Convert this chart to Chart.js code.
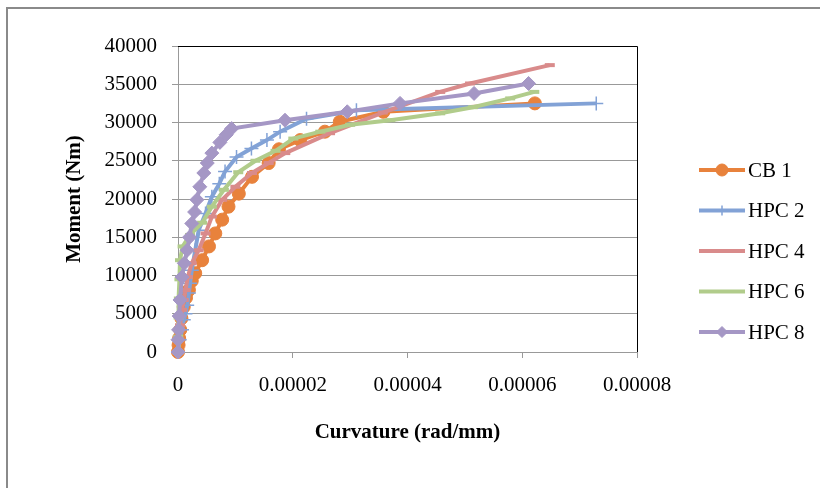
<!DOCTYPE html>
<html>
<head>
<meta charset="utf-8">
<script src="https://cdn.jsdelivr.net/npm/chart.js@4/dist/chart.umd.min.js"></script>
<style>
  html, body { margin: 0; padding: 0; background: #fff; }
  canvas { display: block; }
</style>
</head>
<body>
<canvas id="c" width="820" height="488"></canvas>
<script>
// ----- data (curvature in rad/mm, moment in Nm) -----
var seriesNames = ["CB 1", "HPC 2", "HPC 4", "HPC 6", "HPC 8"];

var cb1Curv  = [0, 0.1e-6, 0.2e-6, 0.4e-6, 0.6e-6, 1.0e-6, 1.4e-6, 1.9e-6, 2.4e-6, 3.0e-6, 4.2e-6, 5.4e-6, 6.5e-6, 7.7e-6, 8.8e-6, 10.6e-6, 12.9e-6, 15.8e-6, 17.6e-6, 21.3e-6, 25.6e-6, 28.2e-6, 35.8e-6, 62.2e-6];
var cb1Mom   = [0, 900, 1800, 2900, 4400, 5900, 7100, 8100, 9300, 10300, 12000, 13800, 15500, 17300, 19000, 20700, 22900, 24700, 26500, 27700, 28800, 30100, 31400, 32500];

var hpc2Curv = [0, 0.3e-6, 0.7e-6, 1.0e-6, 1.3e-6, 1.6e-6, 1.9e-6, 2.1e-6, 2.4e-6, 3.0e-6, 3.6e-6, 4.8e-6, 5.9e-6, 7.2e-6, 8.2e-6, 10.2e-6, 12.8e-6, 15.5e-6, 17.8e-6, 22.4e-6, 31.1e-6, 72.9e-6];
var hpc2Mom  = [0, 1600, 2900, 4200, 5000, 6100, 7700, 9000, 10700, 13300, 15900, 18100, 20300, 22000, 23600, 25500, 26600, 27700, 28800, 30500, 31600, 32500];

var hpc4Curv = [0, 0.2e-6, 0.35e-6, 0.7e-6, 1.0e-6, 1.3e-6, 1.7e-6, 2.4e-6, 3.6e-6, 4.8e-6, 5.9e-6, 7.7e-6, 10.0e-6, 12.9e-6, 15.8e-6, 18.7e-6, 26.5e-6, 35.7e-6, 45.7e-6, 50.9e-6, 64.8e-6];
var hpc4Mom  = [0, 1600, 3500, 5500, 6800, 8100, 9800, 11600, 13300, 15500, 17700, 19900, 21600, 23400, 24700, 26000, 28600, 31300, 34000, 35100, 37500];

var hpc6Curv = [0, 0.05e-6, 0.1e-6, 0.15e-6, 0.25e-6, 0.35e-6, 0.8e-6, 2.1e-6, 4.2e-6, 5.9e-6, 8.0e-6, 10.5e-6, 13.5e-6, 17.0e-6, 20.1e-6, 24.8e-6, 30.0e-6, 37.0e-6, 45.7e-6, 51.4e-6, 57.9e-6, 62.1e-6];
var hpc6Mom  = [0, 2000, 4500, 7000, 9500, 12000, 13800, 15300, 16900, 19000, 21200, 23500, 25000, 26300, 27900, 28800, 29700, 30300, 31200, 32000, 33150, 34000];

var hpc8Curv = [0, 0, 0.1e-6, 0.2e-6, 0.35e-6, 0.7e-6, 1.1e-6, 1.6e-6, 2.0e-6, 2.4e-6, 2.9e-6, 3.3e-6, 3.8e-6, 4.5e-6, 5.1e-6, 5.9e-6, 7.3e-6, 8.4e-6, 9.35e-6, 18.65e-6, 29.5e-6, 38.7e-6, 51.6e-6, 61.1e-6];
var hpc8Mom  = [0, 1600, 2900, 4700, 6800, 9800, 11600, 13300, 15000, 16800, 18300, 19900, 21600, 23400, 24700, 26000, 27400, 28400, 29200, 30300, 31400, 32500, 33800, 35100];

var xTicks = [0, 0.00002, 0.00004, 0.00006, 0.00008];
var yTicks = [0, 5000, 10000, 15000, 20000, 25000, 30000, 35000, 40000];
var xTickLabels = ["0", "0.00002", "0.00004", "0.00006", "0.00008"];

// ----- styles -----
var colors = ["#e8823c", "#82a2d6", "#d98b8b", "#b1cc8b", "#a597c5"];
var marks = [
  { style: "circle",  r: 6.5, bw: 1,   lr: 6 },
  { style: "cross",   r: 7,   bw: 1.5, lr: 5 },
  { style: "line",    r: 5,   bw: 4,   lr: 0 },
  { style: "line",    r: 5,   bw: 4,   lr: 0 },
  { style: "rectRot", r: 7,   bw: 1,   lr: 5.5 }
];
var SERIF = "'Liberation Serif', 'Times New Roman', serif";

function pts(xs, ys) { return xs.map(function (x, i) { return { x: x, y: ys[i] }; }); }
var allCurv = [cb1Curv, hpc2Curv, hpc4Curv, hpc6Curv, hpc8Curv];
var allMom  = [cb1Mom, hpc2Mom, hpc4Mom, hpc6Mom, hpc8Mom];

var datasets = seriesNames.map(function (name, i) {
  return {
    label: name,
    data: pts(allCurv[i], allMom[i]),
    borderColor: colors[i],
    backgroundColor: colors[i],
    borderWidth: 4,
    tension: 0,
    pointStyle: marks[i].style,
    pointRadius: marks[i].r,
    pointBorderWidth: marks[i].bw,
    pointBorderColor: colors[i],
    pointBackgroundColor: colors[i],
    clip: false,
    order: seriesNames.length - i   // later series on top, as in the original
  };
});

// frame, plot border and legend
var decor = {
  id: "decor",
  beforeDraw: function (c) {
    var ctx = c.ctx;
    ctx.save();
    ctx.fillStyle = "#fff";
    ctx.fillRect(0, 0, c.width, c.height);
    ctx.strokeStyle = "#8a8a8a";
    ctx.lineWidth = 2;
    ctx.beginPath();
    ctx.moveTo(7, 488); ctx.lineTo(7, 8); ctx.lineTo(820, 8);
    ctx.stroke();
    ctx.restore();
  },
  beforeDatasetsDraw: function (c) {
    var ctx = c.ctx, a = c.chartArea;
    ctx.save();
    ctx.strokeStyle = "#000";
    ctx.lineWidth = 1;
    ctx.beginPath();
    ctx.moveTo(a.left, a.top + 0.5); ctx.lineTo(a.right + 0.5, a.top + 0.5); ctx.lineTo(a.right + 0.5, a.bottom);
    ctx.stroke();
    ctx.restore();
  },
  afterDraw: function (c) {
    var ctx = c.ctx;
    ctx.save();
    seriesNames.forEach(function (name, i) {
      var y = 170 + i * 40.5;
      ctx.strokeStyle = colors[i];
      ctx.fillStyle = colors[i];
      ctx.lineWidth = 4;
      ctx.beginPath(); ctx.moveTo(699, y); ctx.lineTo(745, y); ctx.stroke();
      if (marks[i].lr > 0) {
        ctx.lineWidth = marks[i].bw;
        Chart.helpers.drawPoint(ctx, { pointStyle: marks[i].style, radius: marks[i].lr, borderWidth: marks[i].bw, rotation: 0 }, 722, y);
      }
      ctx.fillStyle = "#000";
      ctx.font = "21px " + SERIF;
      ctx.textBaseline = "middle";
      ctx.textAlign = "left";
      ctx.fillText(name, 748, y + 1);
    });
    ctx.restore();
  }
};

Chart.defaults.color = "#000";
Chart.defaults.font.family = SERIF;
Chart.defaults.font.size = 21;

new Chart(document.getElementById("c"), {
  type: "line",
  data: { datasets: datasets },
  plugins: [decor],
  options: {
    responsive: false,
    animation: false,
    devicePixelRatio: 1,
    layout: { padding: { left: 0, right: 183, top: 46, bottom: 0 } },
    plugins: { legend: { display: false }, tooltip: { enabled: false } },
    scales: {
      x: {
        type: "linear",
        min: 0, max: 0.00008,
        afterBuildTicks: function (s) { s.ticks = xTicks.map(function (v) { return { value: v }; }); },
        afterFit: function (s) { s.height = 136; },
        ticks: {
          padding: 15,
          maxRotation: 0,
          autoSkip: false,
          callback: function (v, i) { return xTickLabels[i]; }
        },
        grid: { drawOnChartArea: false, tickLength: 6, color: "#999" },
        border: { color: "#999" },
        title: {
          display: true,
          text: "Curvature (rad/mm)",
          font: { size: 21, weight: "bold", family: SERIF },
          padding: { top: 0, bottom: 43 }
        }
      },
      y: {
        min: 0, max: 40000,
        afterBuildTicks: function (s) { s.ticks = yTicks.map(function (v) { return { value: v }; }); },
        afterFit: function (s) { s.width = 178; },
        ticks: { padding: 15, callback: function (v) { return String(v); } },
        grid: { tickLength: 6, color: "#999" },
        border: { color: "#999" },
        title: {
          display: true,
          text: "Moment (Nm)",
          font: { size: 21, weight: "bold", family: SERIF },
          padding: { top: 62, bottom: 0 }
        }
      }
    }
  }
});
</script>
</body>
</html>
